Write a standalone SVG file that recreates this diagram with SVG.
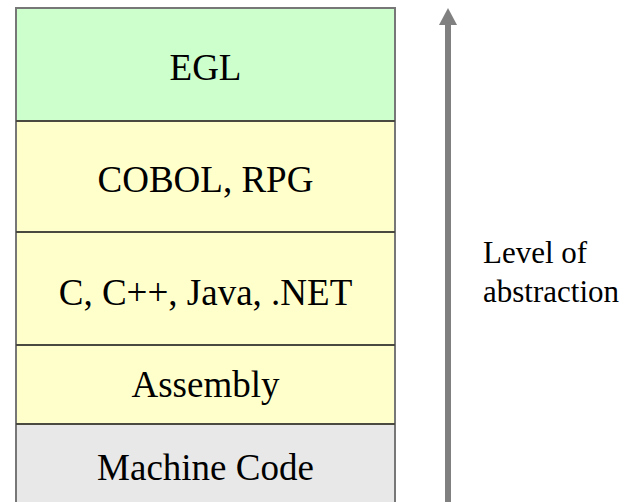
<svg xmlns="http://www.w3.org/2000/svg" width="627" height="502" viewBox="0 0 627 502">
<style>
.lbl{font-family:"Liberation Serif","Times New Roman",serif;font-size:37px;fill:#000;text-anchor:middle}
.side{font-family:"Liberation Serif","Times New Roman",serif;font-size:31px;fill:#000}
.div{stroke:#4a4a40;stroke-width:2}
</style>
<rect x="0" y="0" width="627" height="502" fill="#fff"/>
<g id="egl"><rect x="16" y="8" width="379" height="113" fill="#ccffcc"/><text class="lbl" x="205.5" y="80">EGL</text></g>
<g id="cobol"><rect x="16" y="121" width="379" height="111" fill="#ffffcc"/><text class="lbl" x="205.5" y="192">COBOL, RPG</text></g>
<g id="c"><rect x="16" y="232" width="379" height="113" fill="#ffffcc"/><text class="lbl" x="205.5" y="305">C, C++, Java, .NET</text></g>
<g id="assembly"><rect x="16" y="345" width="379" height="79" fill="#ffffcc"/><text class="lbl" x="205.5" y="397">Assembly</text></g>
<g id="machine"><rect x="16" y="424" width="379" height="90" fill="#e8e8e8"/><text class="lbl" x="205.5" y="480">Machine Code</text></g>
<g id="frame" fill="none">
<path d="M16 520 V8 H395 V520" stroke="#777" stroke-width="2"/>
<line class="div" x1="16" y1="121" x2="395" y2="121"/>
<line class="div" x1="16" y1="232" x2="395" y2="232"/>
<line class="div" x1="16" y1="345" x2="395" y2="345"/>
<line class="div" x1="16" y1="424" x2="395" y2="424"/>
</g>
<g id="connectors">
<line x1="448" y1="502" x2="448" y2="24" stroke="#808080" stroke-width="6"/>
<polygon points="448,8 457,25 439,25" fill="#808080"/>
</g>
<g id="abstraction"><text class="side" x="483" y="263">Level of</text><text class="side" x="483" y="302">abstraction</text></g>
</svg>
